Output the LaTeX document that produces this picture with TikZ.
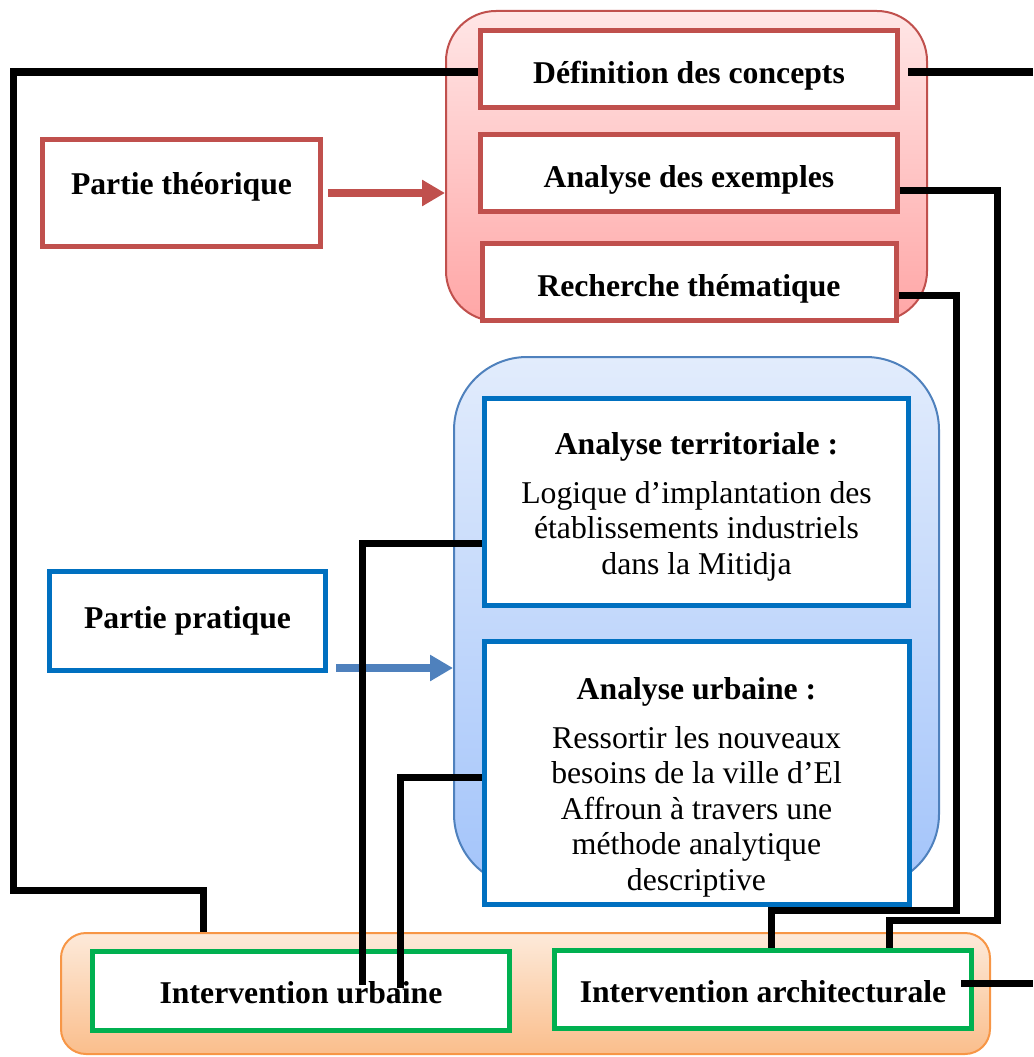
\documentclass[tikz,border=0pt]{standalone}
\usepackage{fontspec}
\setmainfont{Liberation Serif}
\usepackage{xcolor}
\usepackage{tikz}
\usetikzlibrary{arrows.meta, positioning}
\definecolor{theored}{RGB}{192,80,77}
\definecolor{redtop}{RGB}{255,230,230}
\definecolor{redbot}{RGB}{255,166,166}
\definecolor{pratblue}{RGB}{0,112,192}
\definecolor{grpblue}{RGB}{79,129,189}
\definecolor{bluetop}{RGB}{226,236,252}
\definecolor{bluebot}{RGB}{163,196,250}
\definecolor{intgreen}{RGB}{0,176,80}
\definecolor{grporange}{RGB}{247,150,70}
\definecolor{orangetop}{RGB}{253,234,218}
\definecolor{orangebot}{RGB}{250,190,140}
\newcommand{\boxfont}{\fontsize{31.7pt}{35.5pt}\selectfont}

\begin{document}
\begin{tikzpicture}[x=1pt, y=-1pt,
  group/.style={line width=2pt, inner sep=0pt},
  box/.style={draw, fill=white, line width=5pt, inner sep=0pt, align=center, font=\boxfont},
  bold/.style={font=\boxfont\bfseries},
  redbox/.style={box, bold, draw=theored, text height=28pt, text depth=0pt},
  bluebox/.style={box, draw=pratblue},
  greenbox/.style={box, bold, draw=intgreen, text height=25pt, text depth=0pt},
  arrow/.style={-{Triangle[length=23pt, width=25pt]}, line width=8pt},
  link/.style={draw=black, line width=7pt}
]
\useasboundingbox (0,0) rectangle (1033,1057);

% Partie theorique (red)
\node[group, top color=redtop, bottom color=redbot, draw=theored, rounded corners=50pt,
  minimum width=481pt, minimum height=310pt] (redgrp) at (686.5,166) {};
\node[redbox, minimum width=417pt, minimum height=77pt] (concepts) at (689,69) {Définition des concepts};
\node[redbox, minimum width=417pt, minimum height=77pt, below=22pt of concepts] (exemples) {Analyse des exemples};
\node[redbox, minimum width=414pt, minimum height=77pt, below=27pt of exemples] (recherche) {Recherche thématique};
\node[redbox, text height=22pt, text depth=20pt, minimum width=278pt, minimum height=107pt] (theorie) at (181.5,193) {Partie théorique};

% Partie pratique (blue)
\node[group, top color=bluetop, bottom color=bluebot, draw=grpblue, rounded corners=73pt,
  minimum width=485pt, minimum height=530pt] (bluegrp) at (696.5,622) {};
\node[bluebox, minimum width=424pt, minimum height=207pt] (territ) at (696.5,502)
  {\textbf{Analyse territoriale :}\rule{0pt}{31pt}\\[13.5pt] Logique d’implantation des\\ établissements industriels\\ dans la Mitidja};
\node[bluebox, minimum width=425pt, minimum height=263pt, below=31pt of territ] (urbaine)
  {\textbf{Analyse urbaine :}\rule{0pt}{50pt}\\[13.5pt] Ressortir les nouveaux\\ besoins de la ville d’El\\ Affroun à travers une\\ méthode analytique\\ descriptive};
\node[bluebox, bold, minimum width=276pt, minimum height=99pt] (pratique) at (187.5,621) {Partie pratique};

% Interventions (green)
\node[group, top color=orangetop, bottom color=orangebot, draw=grporange, rounded corners=25pt,
  minimum width=929pt, minimum height=121pt] (orangegrp) at (525.5,993.5) {};
\node[greenbox, minimum width=417pt, minimum height=79pt] (interurb) at (301,991) {Intervention urbaine};
\node[greenbox, minimum width=417pt, minimum height=78pt] (interarch) at (763,989.5) {Intervention architecturale};

% Arrows
\draw[arrow, draw=theored, shorten <=5pt] (theorie.east) -- (theorie.east -| redgrp.west);
\coordinate (pratout) at ([yshift=5pt]pratique.south east);
\draw[arrow, draw=grpblue, shorten <=8pt] (pratout) -- (pratout -| bluegrp.west);

% Links
\coordinate (redge) at (1033,0);
\coordinate (lbend) at (13,890);
\coordinate (exbend) at (997,920);
\coordinate (rebend) at (956,910);
\coordinate (terrend) at (362,985);
\coordinate (urbend) at (400,988);
\draw[link] ([yshift=-3pt]concepts.west) -| (lbend) -| ([xshift=143pt]orangegrp.north west);
\draw[link, shorten <=8pt] ([yshift=-3pt]concepts.east) -- ([yshift=-3pt]concepts.east -| redge);
\draw[link] ([yshift=-17pt]exemples.east) -| (exbend) -| ([xshift=337pt]interarch.north west);
\draw[link] ([yshift=-13pt]recherche.east) -| (rebend) -| ([xshift=219pt]interarch.north west);
\draw[link] ([yshift=-41pt]territ.west) -| (terrend);
\draw[link] ([yshift=-4pt]urbaine.west) -| (urbend);
\coordinate (archout) at ([xshift=-13pt,yshift=6pt]interarch.east);
\draw[link] (archout) -- (archout -| redge);
\end{tikzpicture}
\end{document}
